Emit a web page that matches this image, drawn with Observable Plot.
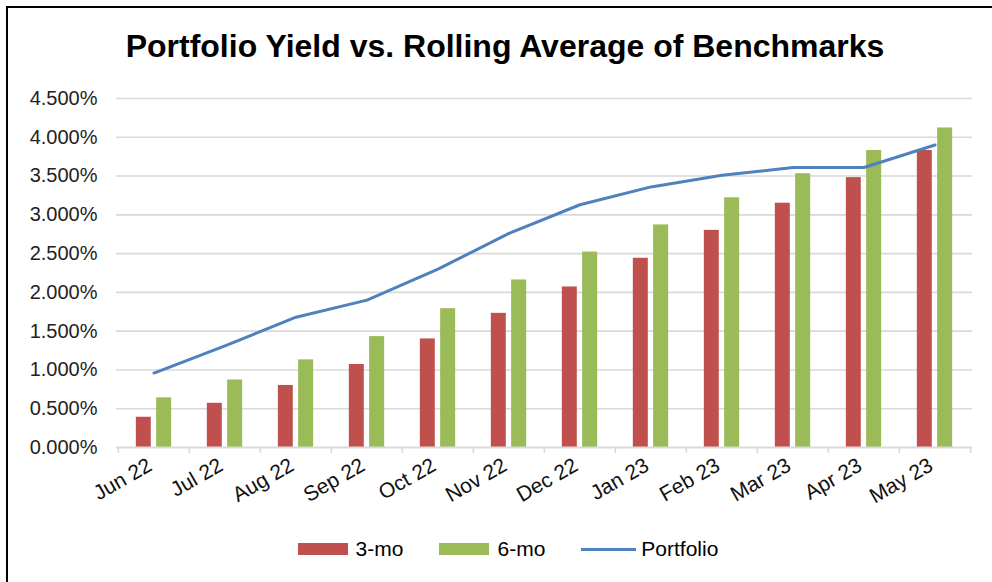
<!DOCTYPE html>
<html><head><meta charset="utf-8">
<script src="https://cdn.jsdelivr.net/npm/d3@7"></script>
<script src="https://cdn.jsdelivr.net/npm/@observablehq/plot@0.6"></script>
<style>
body{margin:0;background:#fff;font-family:"Liberation Sans",Arial,sans-serif;}
#frame{position:relative;width:992px;height:582px;overflow:hidden;}
#border{position:absolute;left:6px;top:6px;width:1000px;height:600px;border-left:2px solid #000;border-top:2px solid #000;pointer-events:none;}
#title{padding-top:31px;height:31px;line-height:31px;font-size:32px;font-weight:bold;text-align:center;padding-left:18px;color:#000;white-space:nowrap;}
#chart svg{display:block;}
#legend{height:72px;box-sizing:border-box;padding-top:27px;display:flex;justify-content:center;align-items:flex-start;padding-left:24px;font-size:21px;line-height:24px;color:#000;}
.item{display:flex;align-items:center;margin:0 18px;height:24px;}
.sw{width:50px;height:12px;margin-right:8px;}
.ln{width:55px;height:3px;margin-right:5px;}
</style></head>
<body>
<div id="frame">
<div id="border"></div>
<div id="title">Portfolio Yield vs. Rolling Average of Benchmarks</div>
<div id="chart"></div>
<div id="legend"></div>
</div>
<script>
const months = ["Jun 22","Jul 22","Aug 22","Sep 22","Oct 22","Nov 22","Dec 22","Jan 23","Feb 23","Mar 23","Apr 23","May 23"];
const threeMo = [0.39, 0.57, 0.80, 1.07, 1.40, 1.73, 2.07, 2.44, 2.80, 3.15, 3.48, 3.83];
const sixMo = [0.64, 0.87, 1.13, 1.43, 1.79, 2.16, 2.52, 2.87, 3.22, 3.53, 3.83, 4.12];
const portfolio = [0.96, 1.31, 1.68, 1.90, 2.30, 2.76, 3.13, 3.36, 3.51, 3.61, 3.61, 3.90];
const yTicks = [0, 0.5, 1, 1.5, 2, 2.5, 3, 3.5, 4, 4.5];
const seriesNames = ["3-mo", "6-mo", "Portfolio"];
const colors = ["#c0504d", "#9bbb59", "#4f81bd"];

const rows3 = months.map((m, i) => ({month: m, value: threeMo[i]}));
const rows6 = months.map((m, i) => ({month: m, value: sixMo[i]}));
const rowsP = months.map((m, i) => ({month: m, value: portfolio[i]}));

const W = 992, ML = 116, MR = 20;
const bw = (W - ML - MR) / months.length;

const chart = Plot.plot({
  width: W,
  height: 448,
  marginTop: 36,
  marginBottom: 63,
  marginLeft: ML,
  marginRight: MR,
  style: {fontFamily: "'Liberation Sans', Arial, sans-serif", background: "transparent", overflow: "visible"},
  x: {type: "band", domain: months, padding: 0, label: null},
  y: {domain: [0, 4.5], label: null},
  marks: [
    Plot.gridY(yTicks.slice(1), {stroke: "#d9d9d9", strokeOpacity: 1, strokeWidth: 1.6}),
    Plot.axisY({ticks: yTicks, tickSize: 0, tickPadding: 19, tickFormat: d => d.toFixed(3) + "%", fontSize: 20, color: "#222", label: null}),
    Plot.barY(rows3, {x: "month", y: "value", fill: colors[0], insetLeft: bw * 0.25, insetRight: bw - bw * 0.25 - 15.3}),
    Plot.barY(rows6, {x: "month", y: "value", fill: colors[1], insetLeft: bw * 0.25 + 20.3, insetRight: bw * 0.25}),
    Plot.ruleY([0], {stroke: "#d9d9d9", strokeWidth: 2}),
    Plot.axisX({ticks: months, tickSize: 6, dx: -bw / 2, tickFormat: () => "", stroke: "#d9d9d9", strokeWidth: 1.6, label: null}),
    Plot.axisX({ticks: [months[months.length - 1]], tickSize: 6, dx: bw / 2, tickFormat: () => "", stroke: "#d9d9d9", strokeWidth: 1.6, label: null}),
    Plot.axisX({tickSize: 0, tickRotate: -30, tickPadding: 16, dx: -4, fontSize: 21, color: "#111", label: null}),
    Plot.line(rowsP, {x: "month", y: "value", stroke: colors[2], strokeWidth: 3})
  ]
});
document.getElementById("chart").appendChild(chart);

const legend = document.getElementById("legend");
seriesNames.forEach((name, i) => {
  const item = document.createElement("div");
  item.className = "item";
  const sw = document.createElement("div");
  sw.className = i < 2 ? "sw" : "ln";
  sw.style.background = colors[i];
  const t = document.createElement("span");
  t.textContent = name;
  item.appendChild(sw);
  item.appendChild(t);
  legend.appendChild(item);
});
</script>
</body></html>
